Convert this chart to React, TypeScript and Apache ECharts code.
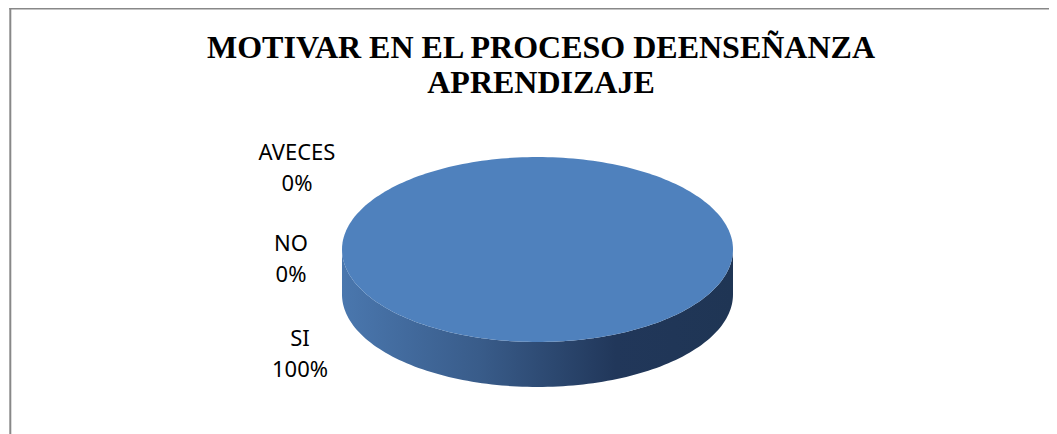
import React, { useEffect, useRef } from "react";
import * as echarts from "echarts";

const categories = ["SI", "NO", "AVECES"];
const values = [100, 0, 0];
const titleLines = ["MOTIVAR EN EL PROCESO DEENSEÑANZA", "APRENDIZAJE"];

// layout (not data)
const CX = 529.5;
const CY = 241.5;
const RX = 195.5;
const RY = 92.5;
const DEPTH = 45;
const LABEL_OFFSETS: [number, number][] = [
  [-42, 102.5],
  [-51, 7.5],
  [-45, -83.5],
];

function arcPoints(a: number, b: number, cy: number, n = 240): number[][] {
  const pts: number[][] = [];
  const steps = Math.max(2, Math.ceil((n * (b - a)) / (2 * Math.PI)));
  for (let k = 0; k <= steps; k++) {
    const t = a + ((b - a) * k) / steps;
    pts.push([CX + RX * Math.cos(t), cy + RY * Math.sin(t)]);
  }
  return pts;
}

export default function App() {
  const ref = useRef<HTMLDivElement>(null);
  useEffect(() => {
    if (!ref.current) return;
    const chart = echarts.init(ref.current, undefined, { renderer: "svg" });
    const total = values.reduce((s, v) => s + v, 0);

    const renderItem = (params: any, api: any) => {
      const i = params.dataIndex;
      const v = api.value(0);
      const before = values.slice(0, i).reduce((s, x) => s + x, 0);
      const frac = total ? v / total : 0;
      const start = -Math.PI / 2 + (2 * Math.PI * before) / (total || 1);
      const end = start + 2 * Math.PI * frac;
      const children: any[] = [];
      if (frac > 0) {
        // side (front half only)
        for (let k = -1; k <= 1; k++) {
          const a = Math.max(start, 0 + 2 * Math.PI * k);
          const b = Math.min(end, Math.PI + 2 * Math.PI * k);
          if (b > a) {
            const topArc = arcPoints(a, b, CY);
            const botArc = arcPoints(a, b, CY + DEPTH).reverse();
            children.push({
              type: "polygon",
              shape: { points: topArc.concat(botArc) },
              style: {
                fill: new echarts.graphic.LinearGradient(0, 0, 1, 0, [
                  { offset: 0, color: "#4a77ae" },
                  { offset: 0.35, color: "#395c8a" },
                  { offset: 0.7, color: "#21375a" },
                  { offset: 1, color: "#1f3554" },
                ]),
              },
            });
          }
        }
        const arc = arcPoints(start, end, CY);
        const pts = frac >= 0.9999 ? arc : [[CX, CY]].concat(arc);
        children.push({
          type: "polygon",
          shape: { points: pts },
          style: { fill: "#4f81bd" },
        });
      }
      const off = LABEL_OFFSETS[i];
      const pct = Math.round(frac * 100);
      children.push({
        type: "text",
        x: CX - RX + off[0],
        y: CY + off[1],
        style: {
          text: `${categories[i]}\n${pct}%`,
          fill: "#000",
          fontSize: 22,
          fontFamily: "Noto Sans",
          lineHeight: 31,
          align: "center",
          verticalAlign: "middle",
        },
      });
      return { type: "group", children };
    };

    chart.setOption({
      animation: false,
      backgroundColor: "#fff",
      graphic: [
        {
          type: "line",
          shape: { x1: 1.3, y1: 0.75, x2: 1049, y2: 0.75 },
          style: { stroke: "#888", lineWidth: 1.5 },
        },
        {
          type: "line",
          shape: { x1: 2.3, y1: 0, x2: 2.3, y2: 426 },
          style: { stroke: "#888", lineWidth: 2 },
        },
        {
          type: "text",
          x: 533,
          y: 21.7,
          style: {
            text: titleLines.join("\n"),
            fill: "#000",
            fontSize: 32,
            fontWeight: "bold",
            fontFamily: "Liberation Serif",
            lineHeight: 35,
            align: "center",
            verticalAlign: "top",
          },
        },
      ],
      series: [
        {
          type: "custom",
          coordinateSystem: "none",
          renderItem,
          data: categories.map((c, i) => ({ name: c, value: [values[i]] })),
        },
      ],
    });
    return () => chart.dispose();
  }, []);
  return <div ref={ref} style={{ width: 1049, height: 426 }} />;
}
